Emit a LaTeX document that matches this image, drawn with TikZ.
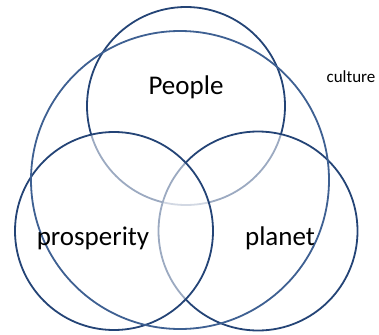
\documentclass[tikz,border=0pt]{standalone}
\usepackage{fontspec}
\setmainfont{Carlito}
\usepackage{tikz}
\usetikzlibrary{
positioning,
backgrounds
}
\definecolor{ringblue}{RGB}{36,68,118}
\definecolor{outerblue}{RGB}{62,96,146}

\begin{document}
\begin{tikzpicture}[x=1pt,y=-1pt,
      ring/.style={circle,draw=ringblue,line width=1.8pt,inner sep=0pt},
      veil/.style={ring,fill=white,fill opacity=0.55},
      word/.style={font=\fontsize{27}{30}\selectfont,inner sep=0pt}]
      \useasboundingbox (0,0) rectangle (379,334);
      \node[ring,minimum size=198pt] (people) at (186,106) {};
      \node[veil,minimum size=199pt] (planet) at (258,231) {};
      \node[veil,minimum size=198pt] (prosp) at (114,231) {};
      % outer culture circle
      \node[ring,draw=outerblue,minimum size=298pt] (outer) at (180,180) {};
      
        \node[word,anchor=base] (tpeople) at (186,95) {People};
        \node[word,anchor=base] (tprosp) at (93,245) {prosperity};
        \node[word,anchor=base] (tplanet) at (280,245) {planet};
        \node[font=\fontsize{17}{20}\selectfont,anchor=base,inner sep=0pt] (tculture) at (351,82) {culture};
      
   \end{tikzpicture}
\end{document}
